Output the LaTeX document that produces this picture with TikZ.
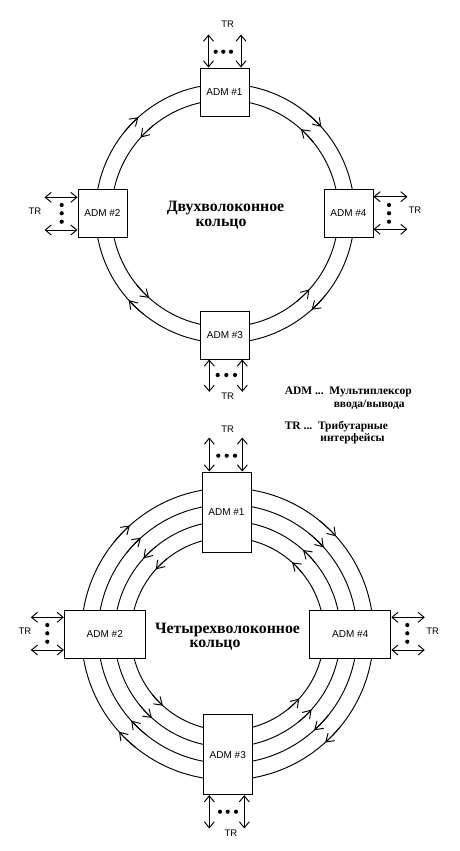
\documentclass[tikz,border=0pt]{standalone}
\usepackage{fontspec}
\setmainfont{Liberation Serif}
\newfontfamily\sansf{Liberation Sans}
\usetikzlibrary{arrows.meta}
\newcommand\ringarrow[4]{%
  \draw[ringtip] (#1) ++({#3-6*#4}:#2) arc[start angle={#3-6*#4}, end angle={#3+3*#4}, radius=#2];}
\begin{document}
\begin{tikzpicture}[x=1pt,y=-1pt, line width=0.95pt,
  admbox/.style={draw, fill=white, inner sep=0pt, font=\sansf\fontsize{10}{12}\selectfont},
  sqbox/.style={admbox, minimum width=49pt, minimum height=48pt},
  vbox/.style={admbox, minimum width=49pt, minimum height=80pt},
  hbox/.style={admbox, minimum width=81pt, minimum height=48pt},
  trlabel/.style={font=\sansf\fontsize{9.5}{11}\selectfont, inner sep=0pt},
  trarrow/.style={{Straight Barb[length=6pt,width=10pt]}-{Straight Barb[length=6pt,width=10pt]}},
  ringtip/.style={-{Straight Barb[length=7.5pt,width=10pt]}},
  ringtext/.style={font=\bfseries\fontsize{15.8}{16}\selectfont, inner sep=0pt, anchor=base},
  legend/.style={font=\bfseries\fontsize{11.5}{12}\selectfont, inner sep=0pt, anchor=base west},
  dot/.style={fill=black}
]
\useasboundingbox (0,0) rectangle (460,851);

% ---------- two-fibre ring ----------
\coordinate (c1) at (225,213.5);
\draw (c1) circle[radius=129.5];
\draw (c1) circle[radius=113.5];
\foreach \a in {225,315,45,135} {
  \ringarrow{c1}{129.5}{\a}{1}
  \ringarrow{c1}{113.5}{\a}{-1}
}
\node[sqbox] (t1) at (224.5,92) {ADM \#1};
\node[sqbox] (t2) at (102.5,213.5) {ADM \#2};
\node[sqbox] (t4) at (348.5,213.5) {ADM \#4};
\node[sqbox] (t3) at (225,335) {ADM \#3};

\node[ringtext] (tt1) at (225.5,211) {Двухволоконное};
\node[ringtext] (tt2) at (221,226) {кольцо};

% TR of ADM #1
\draw[trarrow] ([xshift=-16pt]t1.north) -- ++(0,-33);
\draw[trarrow] ([xshift=16.5pt]t1.north) -- ++(0,-33);
\foreach \x in {215.7,223.3,231} \fill[dot] (\x,51.7) circle[radius=2.1];
\node[trlabel] (tr1) at (227.7,24) {TR};
% TR of ADM #2
\draw[trarrow] ([yshift=16.2pt]t2.west) -- ++(-33,0);
\draw[trarrow] ([yshift=-16.5pt]t2.west) -- ++(-33,0);
\foreach \y in {205,213.3,221.7} \fill[dot] (61.7,\y) circle[radius=2.1];
\node[trlabel] (tr2) at (35,211.7) {TR};
% TR of ADM #4
\draw[trarrow] ([yshift=16.8pt]t4.east) -- ++(34,0);
\draw[trarrow] ([yshift=-15.8pt]t4.east) -- ++(34,0);
\foreach \y in {205,213.3,221.7} \fill[dot] (389,\y) circle[radius=2.1];
\node[trlabel] (tr4) at (415,210.7) {TR};
% TR of ADM #3
\draw[trarrow] ([xshift=-15.7pt]t3.south) -- ++(0,32.4);
\draw[trarrow] ([xshift=17.3pt]t3.south) -- ++(0,32.4);
\foreach \x in {217.7,226.3,235} \fill[dot] (\x,375) circle[radius=2.1];
\node[trlabel] (tr3) at (227.7,396.7) {TR};

% ---------- legend ----------
\node[legend] (l1) at (284.3,394) {ADM ...\ \ Мультиплексор};
\node[legend] (l2) at (333.3,407.3) {ввода/вывода};
\node[legend] (l3) at (284.3,429.8) {TR ...\ \ Трибутарные};
\node[legend] (l4) at (320,441) {интерфейсы};

% ---------- four-fibre ring ----------
\coordinate (c2) at (227.5,634);
\foreach \r in {146,129.5,113,96.5} \draw (c2) circle[radius=\r];
\foreach \a in {225,315,45,135} {
  \ringarrow{c2}{146}{\a}{1}
  \ringarrow{c2}{129.5}{\a}{1}
  \ringarrow{c2}{113}{\a}{-1}
  \ringarrow{c2}{96.5}{\a}{-1}
}
\node[vbox] (b1) at (226.5,512) {ADM \#1};
\node[hbox] (b2) at (104.8,634.2) {ADM \#2};
\node[hbox] (b4) at (350.3,634) {ADM \#4};
\node[vbox] (b3) at (227.8,754.7) {ADM \#3};

\node[ringtext] (bt1) at (227.5,633.3) {Четырехволоконное};
\node[ringtext] (bt2) at (215,647.5) {кольцо};

% TR of ADM #1
\draw[trarrow] ([xshift=-17.2pt]b1.north) -- ++(0,-34);
\draw[trarrow] ([xshift=15.8pt]b1.north) -- ++(0,-34);
\foreach \x in {218.3,226.7,235} \fill[dot] (\x,455.7) circle[radius=2.1];
\node[trlabel] (br1) at (227.7,429.3) {TR};
% TR of ADM #2
\draw[trarrow] ([yshift=16.9pt]b2.west) -- ++(-33,0);
\draw[trarrow] ([yshift=-15.8pt]b2.west) -- ++(-33,0);
\foreach \y in {625,633.3,641.7} \fill[dot] (47.3,\y) circle[radius=2.1];
\node[trlabel] (br2) at (25,631.7) {TR};
% TR of ADM #4
\draw[trarrow] ([yshift=16.7pt]b4.east) -- ++(33.5,0);
\draw[trarrow] ([yshift=-16pt]b4.east) -- ++(33.5,0);
\foreach \y in {625,633.3,641.7} \fill[dot] (407.3,\y) circle[radius=2.1];
\node[trlabel] (br4) at (432.7,631.7) {TR};
% TR of ADM #3
\draw[trarrow] ([xshift=-18.5pt]b3.south) -- ++(0,33.3);
\draw[trarrow] ([xshift=16.5pt]b3.south) -- ++(0,33.3);
\foreach \x in {220,227.7,236} \fill[dot] (\x,811.7) circle[radius=2.1];
\node[trlabel] (br3) at (231,833.3) {TR};
\end{tikzpicture}
\end{document}
